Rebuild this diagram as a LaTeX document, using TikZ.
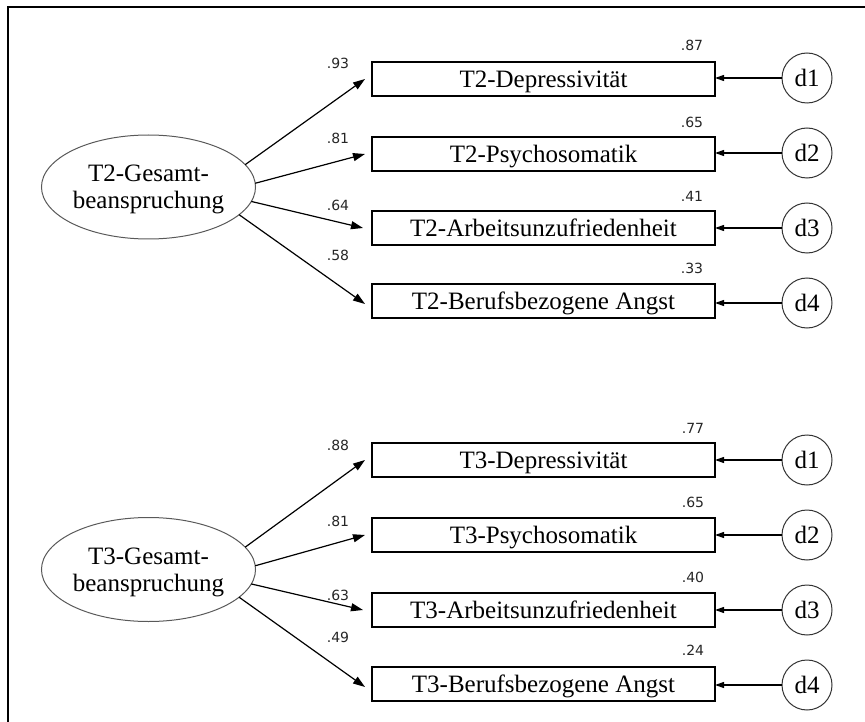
\documentclass[tikz,border=0pt]{standalone}
\usepackage{fontspec}
\setmainfont{Liberation Serif}
\newfontfamily\numfont{DejaVu Sans}
\usetikzlibrary{arrows.meta,shapes.geometric}

\begin{document}
\begin{tikzpicture}[x=1pt,y=-1pt,
  every node/.style={inner sep=0pt, outer sep=0pt},
  indicator/.style={draw, line width=1.2pt, minimum width=343pt, minimum height=34pt,
    text depth=0pt, font=\fontsize{25}{28}\selectfont},
  latent/.style={ellipse, draw=black!65, line width=1pt, minimum width=211pt,
    minimum height=104pt, align=center, text depth=0pt, font=\fontsize{25}{27}\selectfont},
  resid/.style={circle, draw=black!80, line width=1pt, minimum size=50pt,
    font=\fontsize{25}{28}\selectfont},
  coef/.style={font=\numfont\fontsize{14}{16}\selectfont, text=black!85},
  load/.style={-{Triangle[length=12pt,width=8pt]}, line width=1.2pt},
  err/.style={-{Triangle[length=9pt,width=6pt]}, line width=1.2pt},
  frame/.style={line width=2.4pt}
]
\useasboundingbox (0,0) rectangle (865,722);

% open frame: top and left edges
\coordinate (fl) at (8,722);
\coordinate (fc) at (8,7);
\coordinate (fr) at (865,7);
\draw[frame] (fl) -- (fc) -- (fr);

% ---------------- T2 model ----------------
\node[latent] (g2) at (148.5,187) {T2-Gesamt-\\beanspruchung};

\node[indicator] (a1) at (543.5,79)  {T2-Depressivität};
\node[indicator] (a2) at (543.5,154) {T2-Psychosomatik};
\node[indicator] (a3) at (543.5,228) {T2-Arbeitsunzufriedenheit};
\node[indicator] (a4) at (543.5,301) {T2-Berufsbezogene Angst};

\node[resid] (e1) at (807,78)  {d1};
\node[resid] (e2) at (807,153) {d2};
\node[resid] (e3) at (807,228) {d3};
\node[resid] (e4) at (807,303) {d4};

\draw[load] (g2.13)  -- ([xshift=-7pt]a1.west);
\draw[load] (g2.2)   -- ([xshift=-7pt]a2.west);
\draw[load] (g2.-8)  -- ([xshift=-9pt]a3.west);
\draw[load] (g2.-17) -- ([xshift=-7pt,yshift=-3pt]a4.west);

\draw[err] (e1.west) -- (e1.west -| a1.east);
\draw[err] (e2.west) -- (e2.west -| a2.east);
\draw[err] (e3.west) -- (e3.west -| a3.east);
\draw[err] (e4.west) -- (e4.west -| a4.east);

\node[coef] (l1) at (338,63)  {.93};
\node[coef] (l2) at (338,138) {.81};
\node[coef] (l3) at (338,205) {.64};
\node[coef] (l4) at (338,255) {.58};

\node[coef] (r1) at (692,45)  {.87};
\node[coef] (r2) at (692,122) {.65};
\node[coef] (r3) at (692,196) {.41};
\node[coef] (r4) at (692,268) {.33};

% ---------------- T3 model ----------------
\node[latent] (g3) at (148.5,569.5) {T3-Gesamt-\\beanspruchung};

\node[indicator] (b1) at (543.5,460) {T3-Depressivität};
\node[indicator] (b2) at (543.5,535) {T3-Psychosomatik};
\node[indicator] (b3) at (543.5,610) {T3-Arbeitsunzufriedenheit};
\node[indicator] (b4) at (543.5,684) {T3-Berufsbezogene Angst};

\node[resid] (f1) at (807,460) {d1};
\node[resid] (f2) at (807,535) {d2};
\node[resid] (f3) at (807,610) {d3};
\node[resid] (f4) at (807,685) {d4};

\draw[load] (g3.13)  -- ([xshift=-7pt]b1.west);
\draw[load] (g3.2)   -- ([xshift=-7pt]b2.west);
\draw[load] (g3.-8)  -- ([xshift=-9pt]b3.west);
\draw[load] (g3.-17) -- ([xshift=-7pt,yshift=-3pt]b4.west);

\draw[err] (f1.west) -- (f1.west -| b1.east);
\draw[err] (f2.west) -- (f2.west -| b2.east);
\draw[err] (f3.west) -- (f3.west -| b3.east);
\draw[err] (f4.west) -- (f4.west -| b4.east);

\node[coef] (m1) at (338,445) {.88};
\node[coef] (m2) at (338,521) {.81};
\node[coef] (m3) at (338,595) {.63};
\node[coef] (m4) at (338,637) {.49};

\node[coef] (s1) at (693,428) {.77};
\node[coef] (s2) at (693,502) {.65};
\node[coef] (s3) at (693,577) {.40};
\node[coef] (s4) at (693,650) {.24};
\end{tikzpicture}
\end{document}
